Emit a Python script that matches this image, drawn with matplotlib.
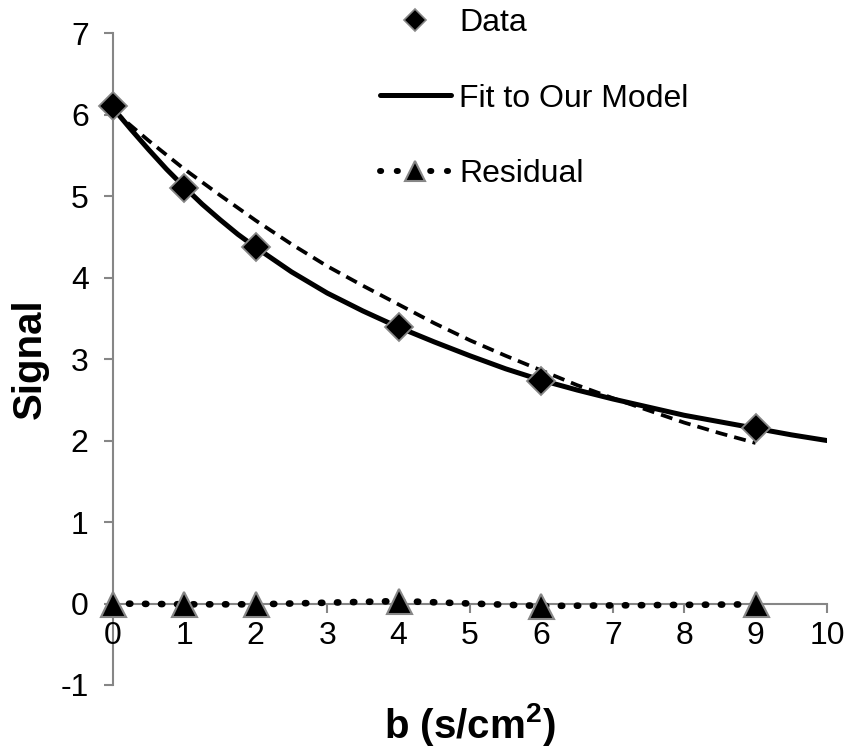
import matplotlib
matplotlib.use("Agg")
import matplotlib.pyplot as plt
from matplotlib.lines import Line2D

# measured points
b_data = [0, 1, 2, 4, 6, 9]
signal_data = [6.10, 5.10, 4.37, 3.39, 2.73, 2.15]

# our model fit
b_fit = [0, 0.25, 0.5, 0.75, 1, 1.25, 1.5, 1.75, 2, 2.5, 3, 3.5, 4, 4.5, 5, 5.5, 6,
         6.5, 7, 7.5, 8, 8.5, 9, 9.5, 10]
signal_fit = [6.08, 5.82, 5.57, 5.33, 5.11, 4.90, 4.71, 4.53, 4.37, 4.07, 3.81, 3.59,
              3.39, 3.21, 3.04, 2.88, 2.74, 2.62, 2.51, 2.41, 2.31, 2.23, 2.15, 2.07, 2.00]

# dashed comparison curve (not in legend)
b_dash = [0, 0.5, 1, 1.5, 2, 2.5, 3, 3.5, 4, 4.5, 5, 5.5, 6, 6.5, 7, 7.5, 8, 8.5, 9]
signal_dash = [6.05, 5.68, 5.33, 5.01, 4.70, 4.41, 4.14, 3.90, 3.67, 3.44, 3.23, 3.04,
               2.86, 2.68, 2.52, 2.37, 2.22, 2.09, 1.97]

# residuals
resid = [0.00, -0.01, -0.01, 0.03, -0.03, -0.01]

x_ticks = list(range(0, 11))
y_ticks = list(range(-1, 8))

plt.rcParams['font.family'] = ['Liberation Sans', 'DejaVu Sans']
plt.rcParams['axes.unicode_minus'] = False
plt.rcParams['mathtext.fontset'] = 'custom'
plt.rcParams['mathtext.bf'] = 'Liberation Sans:bold'
plt.rcParams['mathtext.rm'] = 'Liberation Sans'

fig = plt.figure(figsize=(8.47, 7.51), dpi=100)
ax = fig.add_axes([0.1334, 0.0879, 0.843, 0.868])

grey = '#868686'

ax.plot(b_dash, signal_dash, color='black', lw=2.7, ls=(0, (3.2, 1.9)), zorder=2)
fit_line, = ax.plot(b_fit, signal_fit, color='black', lw=3.6, solid_capstyle='round',
                    solid_joinstyle='round', zorder=3)
data_pts, = ax.plot(b_data, signal_data, ls='none', marker='D', ms=14.5, mfc='black',
                    mec=grey, mew=1.3, zorder=4, clip_on=False)
res_line, = ax.plot(b_data, resid, color='black', lw=4.8, ls=(0, (0.2, 2.2)),
                    dash_capstyle='round', marker='^', ms=18, mfc='black', mec=grey,
                    mew=1.5, zorder=4, clip_on=False)

ax.set_xlim(0, 10)
ax.set_ylim(-1, 7)
ax.set_xticks(x_ticks)
ax.set_yticks(y_ticks)

ax.spines['top'].set_visible(False)
ax.spines['right'].set_visible(False)
ax.spines['left'].set_position(('data', 0))
ax.spines['bottom'].set_position(('data', 0))
for s in ('left', 'bottom'):
    ax.spines[s].set_color(grey)
    ax.spines[s].set_linewidth(1.5)
    ax.spines[s].set_zorder(1)

ax.tick_params(axis='both', colors=grey, labelcolor='black', labelsize=23,
               length=6.5, width=1.5, direction='out')
ax.tick_params(axis='x', pad=6)
ax.tick_params(axis='y', pad=11)

fig.text(0.035, 0.523, 'Signal', rotation=90, fontsize=29, fontweight='bold',
         ha='center', va='center')
fig.text(0.555, 0.035, r'b (s/cm$^{\mathbf{2}}$)', fontsize=29, fontweight='bold',
         ha='center', va='center')

data_h = Line2D([], [], ls='none', marker='D', ms=11, mfc='black', mec=grey, mew=1.2)
res_h = Line2D([], [], color='black', lw=4.3, ls=(0, (0.2, 2.6)), dash_capstyle='round',
               marker='^', ms=15, mfc='black', mec=grey, mew=1.5)
leg = ax.legend([data_h, fit_line, res_h], ['Data', 'Fit to Our Model', 'Residual'],
                loc='upper left', bbox_to_anchor=(0.449, 0.989), bbox_transform=fig.transFigure,
                frameon=False, fontsize=23, labelspacing=1.42, handlelength=2.2,
                handletextpad=0.27, borderaxespad=0, borderpad=0)

fig.savefig('out.png', dpi=100)
